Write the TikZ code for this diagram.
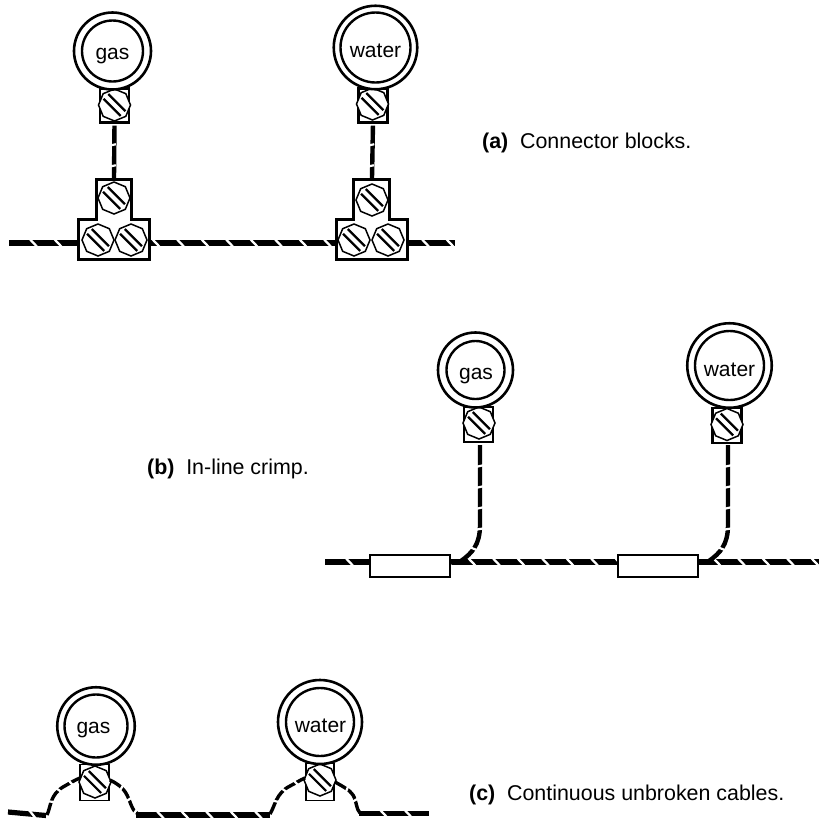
\documentclass[tikz,border=0pt]{standalone}
\usepackage{fontspec}
\setmainfont{Liberation Sans}
\usetikzlibrary{shapes.geometric,decorations.markings}
% ring label: horizontal offset, drop of the baseline below the ring centre, text
\newcommand{\ringtext}[3]{\raisebox{-#2}[0pt][0pt]{\makebox[0pt][c]{\hspace*{#1}#3}}}
\tikzset{
  x=1pt,y=-1pt,
  outerring/.style={circle,draw=black,line width=2.6pt,fill=white,inner sep=0pt,minimum size=#1},
  innerring/.style={circle,draw=black,line width=2.4pt,fill=white,inner sep=0pt,minimum size=#1,font=\fontsize{21}{23}\selectfont},
  lug/.style={rectangle,draw=black,line width=2.2pt,fill=white,inner sep=0pt,minimum width=29pt,minimum height=34pt},
  crimp/.style={rectangle,draw=black,line width=2pt,fill=white,inner sep=0pt,minimum width=80pt,minimum height=22pt},
  gaps/.style={postaction={decorate},decoration={markings,mark=between positions #1 and -1pt step #1 with {\draw[white,line width=2.3pt] (-3.4,-3.6) -- (3.4,3.6);}}},
  wiregaps/.style={postaction={decorate},decoration={markings,mark=between positions #1 and -1pt step #1 with {\draw[white,line width=2.2pt] (-0.8,-3.6) -- (0.8,3.6);}}},
  cable/.style={line width=5.2pt,black,gaps=24.5pt},
  thincable/.style={line width=4.4pt,black,wiregaps=21pt},
  loopcable/.style={line width=3.4pt,black,wiregaps=14pt},
  tee/.style={line width=3pt,draw=black,fill=white,line join=miter},
  caption/.style={anchor=base west,inner sep=0pt,font=\fontsize{21.4}{24}\selectfont},
  octa/.style={regular polygon,regular polygon sides=8,draw=black,line width=1.5pt,fill=white,inner sep=0pt,minimum size=#1,shape border rotate=22.5},
  pics/screw/.style={code={
    \node[octa=32pt] (-o) at (0,0) {};
    \draw[line width=2.2pt,black] (-11,-6.2) -- (6.2,11);
    \draw[line width=2.2pt,black] (-6.2,-11) -- (11,6.2);
  }}
}
\begin{document}
\begin{tikzpicture}
\useasboundingbox (0,0) rectangle (819,820);
\fill[white] (0,0) rectangle (819,820);

% ---------- (a)
\coordinate (aL) at (9,243); \coordinate (aR) at (455,243);
\draw[cable] (aL) -- (aR);
\node[lug] (a1lug) at (114.5,105.5) {};
\pic at (114.5,105) {screw};
\node[outerring=77pt] (a1o) at (112.5,51) {};
\node[innerring=61pt] (a1) at (112.5,51) {\ringtext{0pt}{8pt}{gas}};
\node[lug] (a2lug) at (373,105.5) {};
\pic at (372.5,104) {screw};
\node[outerring=83.5pt] (a2o) at (375.5,47.5) {};
\node[innerring=70pt] (a2) at (375.5,47.5) {\ringtext{0pt}{9.5pt}{water}};
\coordinate (t1) at (114,178); \coordinate (t2) at (372,178);
\draw[thincable,shorten <=2pt] (a1lug.south) -- (t1);
\draw[thincable,shorten <=2pt] (a2lug.south) -- (t2);
\draw[tee] (96,179) -- (131,179) -- (131,219.5) -- (149,219.5) -- (149,259) -- (78,259) -- (78,219.5) -- (96,219.5) -- cycle;
\draw[tee] (353.5,179) -- (389,179) -- (389,219.5) -- (407,219.5) -- (407,259) -- (336,259) -- (336,219.5) -- (353.5,219.5) -- cycle;
\pic at (114,198) {screw}; \pic at (98,240) {screw}; \pic at (131,240) {screw};
\pic at (372,200) {screw}; \pic at (354,240) {screw}; \pic at (388,240) {screw};
\node[caption] (capa) at (482,148) {\textbf{(a)}\hspace{0.55em}Connector blocks.};

% ---------- (b)
\coordinate (bL) at (325,562); \coordinate (bR) at (819,562);
\draw[cable] (bL) -- (bR);
\node[crimp] (c1) at (410,566) {};
\node[crimp] (c2) at (658,566) {};
\node[lug,minimum height=35pt] (b1lug) at (478.5,424.5) {};
\pic at (479,423) {screw};
\node[outerring=75pt] (b1o) at (475.5,370) {};
\node[innerring=58pt] (b1) at (475.5,370) {\ringtext{1pt}{9pt}{gas}};
\node[lug,minimum height=35pt] (b2lug) at (727,425.5) {};
\pic at (727,424.5) {screw};
\node[outerring=84.5pt] (b2o) at (729.5,365.5) {};
\node[innerring=69pt] (b2) at (729.5,365.5) {\ringtext{0pt}{10.5pt}{water}};
\coordinate (j1) at (461,561); \coordinate (j2) at (709,561);
\draw[thincable] (480,445) -- (480,525) .. controls (480,545) and (472,553) .. (j1);
\draw[thincable] (728,445) -- (728,525) .. controls (728,545) and (720,553) .. (j2);
\node[caption] (capb) at (147,474) {\textbf{(b)}\hspace{0.55em}In-line crimp.};

% ---------- (c)
\node[lug,minimum height=36pt,line width=1.6pt] (c1lug) at (94.5,782.5) {};
\pic at (95,782) {screw};
\node[outerring=77.5pt] (c1o) at (96,726) {};
\node[innerring=63pt] (c1m) at (96,726) {\ringtext{-5pt}{7pt}{gas}};
\node[lug,minimum height=37pt,line width=1.6pt,minimum width=28pt] (c2lug) at (320,782) {};
\pic at (320,780) {screw};
\node[outerring=84pt] (c2o) at (320,722) {};
\node[innerring=68pt] (c2m) at (320,722) {\ringtext{1pt}{10pt}{water}};
\coordinate (s1) at (80,778); \coordinate (s2) at (110,780);
\coordinate (s3) at (305,778); \coordinate (s4) at (335,782);
\draw[cable] (8,812) -- (46,815.5);
\draw[loopcable] (47,815) .. controls (51,806) and (50,795) .. (63,787) .. controls (70,783) and (75,780) .. (s1);
\draw[loopcable] (s2) .. controls (116,783) and (123,787) .. (127,795) .. controls (131,803) and (132,811) .. (138,814);
\draw[cable] (136,815) -- (270,815);
\draw[loopcable] (270,814) .. controls (275,806) and (276,793) .. (290,786) .. controls (296,783) and (300,780) .. (s3);
\draw[loopcable] (s4) .. controls (342,786) and (350,790) .. (353,795) .. controls (357,802) and (356,809) .. (360,813);
\draw[cable] (359,813.5) -- (429,813.5);
\node[caption] (capc) at (469,800) {\textbf{(c)}\hspace{0.55em}Continuous unbroken cables.};
\end{tikzpicture}
\end{document}
